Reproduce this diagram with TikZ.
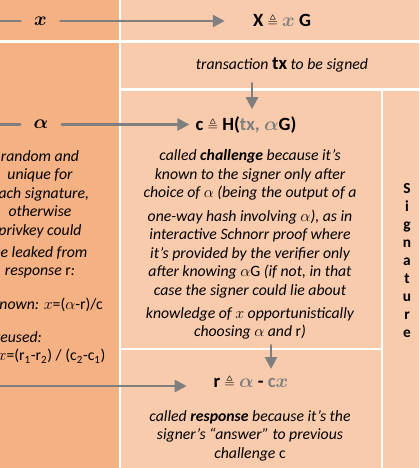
\documentclass[tikz,border=0pt]{standalone}
\usepackage{fontspec}
\setmainfont{Carlito}
\usepackage{amsmath,amssymb,bm}
\usetikzlibrary{arrows.meta}

\definecolor{keycol}{HTML}{F4B183}
\definecolor{sigcol}{HTML}{F8CBAD}
\definecolor{wirecol}{HTML}{7F7F7F}
\newcommand{\grey}[1]{\textcolor{wirecol}{#1}}
\newcommand{\defeq}{\scalebox{0.72}{$\triangleq$}}

\tikzset{
  wire/.style={line width=1.9pt,color=wirecol},
  flow/.style={wire,-{Triangle[length=9pt,width=9pt]}},
  formula/.style={font=\fontsize{14}{16}\selectfont\bfseries,inner sep=0pt},
  keylabel/.style={formula,inner xsep=10pt},
  remark/.style={font=\fontsize{11.8}{13.9}\selectfont\itshape,align=center,inner sep=0pt},
}

\begin{document}
\begin{tikzpicture}[line cap=round,line join=round,x=0.75pt,y=-0.75pt]
    \useasboundingbox (0,0) rectangle (419,468);
    \clip (0,0) rectangle (419,468);
    \fill[white] (0,0) rectangle (419,468);

    % private key column
    \fill[keycol] (-10,-10) rectangle (118.5,40);
    \fill[keycol] (-10,42.5) rectangle (118.5,478);

    % signing column
    \fill[sigcol] (121,-10) rectangle (430,40);
    \fill[sigcol] (121,42.5) rectangle (430,88);
    \fill[sigcol] (121,90.5) rectangle (380.5,347.5);
    \fill[sigcol] (121,350) rectangle (380.5,478);
    \fill[sigcol] (383,90.5) rectangle (430,478);

    \node[keylabel] (xkey) at (40.5,21) {$\bm{x}$};
    \node[formula] (pub) at (282,21) {X \defeq{} \grey{$\bm{x}$} G};
    \node[remark] (tx) at (282,65) {transaction {\upshape\bfseries\fontsize{14}{16}\selectfont tx} to be signed};

    \node[keylabel] (alpha) at (41,124.5) {$\bm{\alpha}$};
    \node[formula] (chal) at (246,124.5) {c \defeq{} H(\grey{tx, $\bm{\alpha}$}G)};
    \node[remark,anchor=north] (chaldesc) at (250,149.5) {called \textbf{challenge} because it's\\
      known to the signer only after\\
      choice of $\alpha$ (being the output of a\\[3.5pt]
      one-way hash involving $\alpha$), as in\\
      interactive Schnorr proof where\\
      it's provided by the verifier only\\
      after knowing $\alpha$\textup{G} (if not, in that\\
      case the signer could lie about\\[3.5pt]
      knowledge of $x$ opportunistically\\
      choosing $\alpha$ and \textup{r})};

    \node[remark,anchor=north] (nonce) at (40,150) {random and\\unique for\\each signature,\\otherwise\\privkey could\\[2.5pt]be leaked from\\response \textup{r}:};
    \node[remark,anchor=north west,align=left] (leak) at (-8,298) {known: \textup{$x$=($\alpha$-r)/c}\\[10.5pt]
      \hspace*{2pt}reused:\\
      \hspace*{4pt}\textup{$x$=(r\textsubscript{1}-r\textsubscript{2}) / (c\textsubscript{2}-c\textsubscript{1})}};

    \node[formula] (resp) at (251,382) {r \defeq{} \grey{$\bm{\alpha}$} - \grey{c$\bm{x}$}};
    \node[remark,anchor=north] (respdesc) at (250,410) {called \textbf{response} because it's the\\signer's ``answer'' to previous\\challenge \textup{c}};

    \node[font=\fontsize{11.5}{13.5}\selectfont\bfseries,align=center,inner sep=0pt] (sig) at (407,260.5) {S\\i\\g\\n\\a\\t\\u\\r\\e};

    % connectors
    \coordinate (xsrc) at (-10,21);
    \coordinate (asrc) at (-10,124.5);
    \coordinate (rsrc) at (-10,386);
    \draw[wire] (xsrc) -- (xkey);
    \draw[flow,shorten >=21pt] (xkey) -- (pub);
    \draw[wire] (asrc) -- (alpha);
    \draw[flow,shorten >=4.5pt] (alpha) -- (chal);
    \draw[flow,shorten >=20pt] (rsrc) -- (rsrc -| resp.west);
    \draw[flow,shorten <=8pt,shorten >=5pt] ([xshift=4.5pt]chal.north |- tx.south) -- ([xshift=4.5pt]chal.north);
    \draw[flow,shorten <=4pt,shorten >=4.5pt] ([xshift=15pt]resp.north |- chaldesc.south) -- ([xshift=15pt]resp.north);
\end{tikzpicture}
\end{document}
